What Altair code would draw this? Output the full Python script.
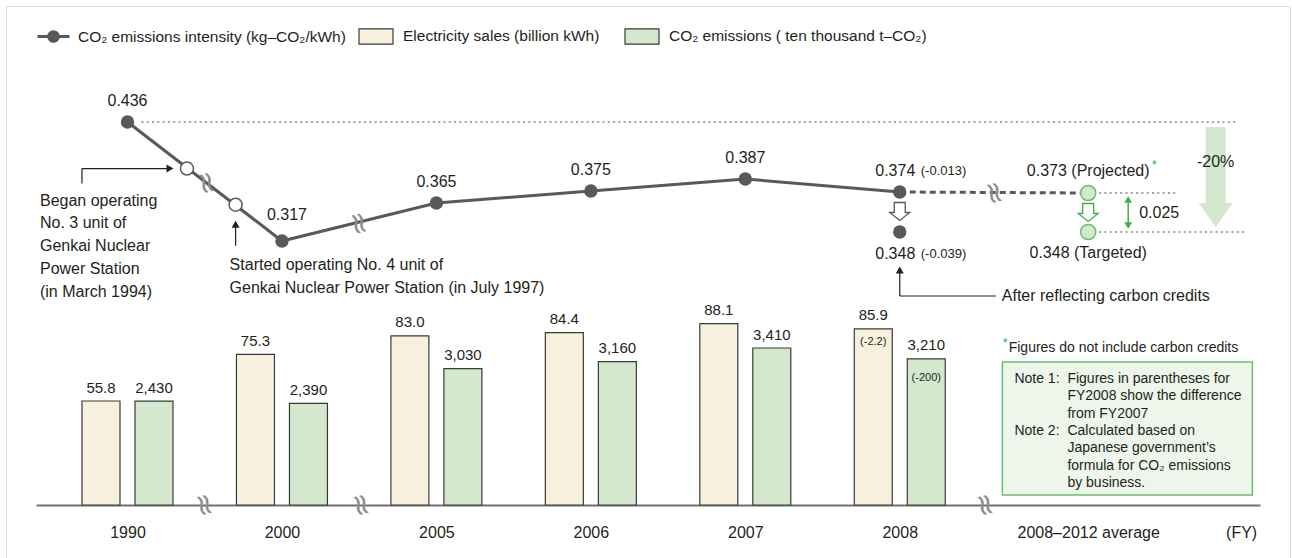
import altair as alt
import pandas as pd

# ----------------------------------------------------------------- data
years = ["1990", "2000", "2005", "2006", "2007", "2008"]
slots = [0, 1, 2, 3, 4, 5]                                   # positions on the broken x axis
intensity = [0.436, 0.317, 0.365, 0.375, 0.387, 0.374]       # kg-CO2/kWh
sales = [55.8, 75.3, 83.0, 84.4, 88.1, 85.9]                 # billion kWh
emissions = [2430, 2390, 3030, 3160, 3410, 3210]             # ten thousand t-CO2

intensity_change_2008 = "(-0.013)"
sales_change_2008 = "(-2.2)"
emissions_change_2008 = "(-200)"
after_credit_2008 = 0.348
after_credit_change = "(-0.039)"

avg_slot = 6.22
projected = 0.373
targeted = 0.348
reduction = "0.025"
reduction_pct = "-20%"

# unit start-up markers on the 1990-2000 segment (March 1994, July 1997)
marker_slots = [0.385, 0.70]
marker_values = [0.396, 0.364]

axis_slots = slots + [avg_slot, 7.21]
axis_labels = years + ["2008–2012 average", "(FY)"]

LINE_NAME = "CO₂ emissions intensity (kg–CO₂/kWh)"
SALES_NAME = "Electricity sales (billion kWh)"
EMIS_NAME = "CO₂ emissions ( ten thousand t–CO₂)"

began_text = ["Began operating", "No. 3 unit of", "Genkai Nuclear", "Power Station", "(in March 1994)"]
started_text = ["Started operating No. 4 unit of", "Genkai Nuclear Power Station (in July 1997)"]
after_text = "After reflecting carbon credits"
star_note = "Figures do not include carbon credits"
note1_head = "Note 1:"
note2_head = "Note 2:"
note_lines = ["Figures in parentheses for", "FY2008 show the difference", "from FY2007",
              "Calculated based on", "Japanese government’s", "formula for CO₂ emissions",
              "by business."]

# layout helpers (break symbols, reference lines, big arrow)
line_break_slots = [0.509, 1.495, 5.61]
line_break_values = [0.383, 0.353, 0.373]
axis_break_slots = [0.495, 1.51, 5.55]
ref_from = [0.09, 6.29, 6.29]
ref_to = [7.19, 6.79, 7.23]
big_arrow_slot = 7.045

# ----------------------------------------------------------------- style
FONT = "Liberation Sans"
TEXT = "#231f20"
DARK = "#58595b"
CREAM = "#f6f0dd"
GREEN_FILL = "#d4e8cd"
GREEN = "#3fae49"
GREEN_EDGE = "#6cbf6c"
DOT = "#a3a3a3"
BAR_EDGE = "#3a3a3a"
FRAME = "#707070"
BREAK = "#8c8c8c"
NOTE_LH = 17.33

expr_labels = "[" + ",".join("'" + t + "'" for t in axis_labels) + "]"
expr_values = "[" + ",".join(str(v) for v in axis_slots) + "]"
X_AXIS = alt.Axis(values=axis_slots, labelExpr=expr_labels + "[indexof(" + expr_values + ", datum.value)]",
                  title=None, ticks=False, tickSize=0, domainColor=FRAME, domainWidth=2, grid=False,
                  labelFontSize=16, labelColor=TEXT, labelFont=FONT, labelPadding=19,
                  labelFlush=False, labelOverlap=False, labelBound=False, offset=-53)
X_SCALE = alt.Scale(domain=[-0.56, 7.3], range=[30, 1254], nice=False, zero=False)
X = alt.X("slot:Q", scale=X_SCALE, axis=X_AXIS)

YI_SCALE = alt.Scale(domain=[0.317, 0.348, 0.365, 0.373, 0.387, 0.436],
                     range=[235, 226, 197, 187, 173, 116], nice=False, zero=False)
YS_SCALE = alt.Scale(domain=[0, 55.8, 88.1], range=[499, 395, 317.7], nice=False, zero=False)
YE_SCALE = alt.Scale(domain=[0, 2390, 3410], range=[499, 397.3, 342], nice=False, zero=False)
YI = alt.Y("value:Q", scale=YI_SCALE, axis=None)

LINE_SYM = "M-1,0L1,0M0.3,0A0.3,0.3,0,1,1,-0.3,0A0.3,0.3,0,1,1,0.3,0Z"
BOX_SYM = "M-1,-0.45L1,-0.45L1,0.45L-1,0.45Z"
HEAD_SYM = "M-1,-0.7L1,-0.7L0,0.7Z"
BLOCK_SYM = "M-0.55,-0.9L0.55,-0.9L0.55,0.1L1,0.1L0,0.9L-1,0.1L-0.55,0.1Z"

line_legend = alt.Legend(title=None, orient="none", legendX=30, legendY=13, symbolType=LINE_SYM,
                         symbolSize=1024, symbolStrokeWidth=3, symbolFillColor=DARK,
                         labelFontSize=15.5, labelColor=TEXT, labelFont=FONT, labelOffset=7,
                         labelLimit=400, padding=0)
bar_legend = alt.Legend(title=None, orient="none", legendX=352, legendY=12, direction="horizontal",
                        symbolType=BOX_SYM, symbolSize=1156, symbolStrokeColor=BAR_EDGE,
                        symbolStrokeWidth=1.2, labelFontSize=15.5, labelColor=TEXT, labelFont=FONT,
                        labelOffset=9, columnPadding=22, labelLimit=400, padding=0)
FILL_SCALE = alt.Scale(domain=[SALES_NAME, EMIS_NAME], range=[CREAM, GREEN_FILL])

# ----------------------------------------------------------------- tables
df_line = pd.DataFrame({"slot": slots, "value": intensity, "series": LINE_NAME})
df_2008 = pd.DataFrame({"slot": [slots[-1]], "value": [intensity[-1]]})
df_after = pd.DataFrame({"slot": [slots[-1]], "value": [after_credit_2008]})
df_dash = pd.DataFrame({"slot": [slots[-1], avg_slot], "value": [intensity[-1], projected]})
df_m1 = pd.DataFrame({"slot": [marker_slots[0]], "value": [marker_values[0]]})
df_m2 = pd.DataFrame({"slot": [marker_slots[1]], "value": [marker_values[1]]})
df_markers = pd.DataFrame({"slot": marker_slots, "value": marker_values})
df_proj = pd.DataFrame({"slot": [avg_slot], "value": [projected]})
df_targ = pd.DataFrame({"slot": [avg_slot], "value": [targeted]})
df_avg = pd.DataFrame({"slot": [avg_slot, avg_slot], "value": [projected, targeted]})
df_span = pd.DataFrame({"slot": [avg_slot], "value": [projected], "value2": [targeted]})
df_ref = pd.DataFrame({"slot": ref_from, "slot2": ref_to, "value": [intensity[0], projected, targeted]})
df_big = pd.DataFrame({"slot": [big_arrow_slot], "value": [intensity[0]], "tip": [targeted]})
df_lbreak = pd.DataFrame({"slot": line_break_slots, "value": line_break_values})

df_sales = pd.DataFrame({"slot": slots, "value": sales, "series": SALES_NAME})
df_emis = pd.DataFrame({"slot": slots, "value": emissions, "series": EMIS_NAME})
df_base = pd.DataFrame({"slot": [avg_slot], "value": [0]})
df_abreak = pd.DataFrame({"slot": axis_break_slots, "value": [0] * len(axis_break_slots)})


def text_at(df, y, text, **kw):
    props = dict(font=FONT, fontSize=16, color=TEXT)
    props.update(kw)
    return alt.Chart(df).mark_text(text=text, **props).encode(x=X, y=y)


def point_at(df, y, **kw):
    return alt.Chart(df).mark_point(opacity=1, **kw).encode(x=X, y=y)


def rule_at(df, y, y2=None, x2=None, **kw):
    enc = dict(x=X, y=y)
    if y2 is not None:
        enc["y2"] = y2
    if x2 is not None:
        enc["x2"] = x2
    return alt.Chart(df).mark_rule(**kw).encode(**enc)


# ----------------------------------------------------------------- intensity group
ref_lines = alt.Chart(df_ref).mark_rule(color=DOT, strokeWidth=2, strokeDash=[2, 3.3]).encode(
    x=X, x2="slot2:Q", y=YI)
line = alt.Chart(df_line).mark_line(strokeWidth=3).encode(
    x=X, y=YI, stroke=alt.Stroke("series:N", scale=alt.Scale(domain=[LINE_NAME], range=[DARK]),
                                 legend=line_legend))
dash = alt.Chart(df_dash).mark_line(strokeWidth=3, strokeDash=[6, 4], color=DARK).encode(x=X, y=YI)

shaft = alt.Chart(df_big).mark_rule(strokeWidth=20, color=GREEN_FILL, strokeCap="butt",
                                    yOffset=5, y2Offset=-28).encode(
    x=X, y=alt.Y("value:Q", scale=YI_SCALE, axis=None), y2="tip:Q")
head = alt.Chart(df_big).mark_point(shape=HEAD_SYM, size=1156, filled=True, color=GREEN_FILL,
                                    opacity=1, strokeWidth=0, yOffset=-17).encode(
    x=X, y=alt.Y("tip:Q", scale=YI_SCALE, axis=None))
pct = alt.Chart(df_big).mark_text(text=reduction_pct, font=FONT, fontSize=16, color=TEXT, dy=40).encode(
    x=X, y=alt.Y("value:Q", scale=YI_SCALE, axis=None))

open_pts = point_at(df_markers, YI, shape="circle", filled=True, fill="white", stroke=DARK,
                    strokeWidth=1.5, size=170)
pts = alt.Chart(df_line).mark_circle(size=180, color=DARK, opacity=1).encode(x=X, y=YI)
after_pt = alt.Chart(df_after).mark_circle(size=180, color=DARK, opacity=1).encode(x=X, y=YI)
green_pts = point_at(df_avg, YI, shape="circle", filled=True, fill=GREEN_FILL, stroke=GREEN_EDGE,
                     strokeWidth=1.5, size=230)

block_2008 = point_at(df_2008, YI, shape=BLOCK_SYM, size=400, filled=True, fill="white",
                      stroke=DARK, strokeWidth=1.3, yOffset=19.5)
block_avg = point_at(df_proj, YI, shape=BLOCK_SYM, size=400, filled=True, fill="white",
                     stroke=GREEN, strokeWidth=1.3, yOffset=19.5)

span_rule = alt.Chart(df_span).mark_rule(color=GREEN, strokeWidth=1.5, xOffset=40, yOffset=7,
                                         y2Offset=-7).encode(x=X, y=YI, y2="value2:Q")
span_up = point_at(df_proj, YI, shape="triangle-up", size=60, filled=True, color=GREEN,
                   xOffset=40, yOffset=6.5)
span_down = point_at(df_targ, YI, shape="triangle-down", size=60, filled=True, color=GREEN,
                     xOffset=40, yOffset=-6.5)
span_text = text_at(df_proj, YI, reduction, align="left", dx=51, dy=19.7)

val_labels = alt.Chart(df_line).transform_filter("datum.slot != 1 && datum.slot != 5").mark_text(
    font=FONT, fontSize=16, color=TEXT, dy=-21).encode(x=X, y=YI, text=alt.Text("value:Q", format=".3f"))
val_1 = alt.Chart(df_line).transform_filter("datum.slot == 1").mark_text(
    font=FONT, fontSize=16, color=TEXT, dx=5, dy=-26).encode(x=X, y=YI, text=alt.Text("value:Q", format=".3f"))
val_5 = alt.Chart(df_line).transform_filter("datum.slot == 5").mark_text(
    font=FONT, fontSize=16, color=TEXT, dx=-4.5, dy=-21).encode(x=X, y=YI, text=alt.Text("value:Q", format=".3f"))
val_5c = text_at(df_2008, YI, intensity_change_2008, fontSize=13, align="left", dx=21, dy=-21)
after_val = alt.Chart(df_after).mark_text(font=FONT, fontSize=16, color=TEXT, dx=-4.5, dy=22).encode(
    x=X, y=YI, text=alt.Text("value:Q", format=".3f"))
after_chg = text_at(df_after, YI, after_credit_change, fontSize=13, align="left", dx=21, dy=22)
proj_lab = text_at(df_proj, YI, f"{projected:.3f} (Projected)", dy=-22)
proj_star = text_at(df_proj, YI, "*", fontSize=13, color=GREEN, dx=66, dy=-28)
targ_lab = text_at(df_targ, YI, f"{targeted:.3f} (Targeted)", dy=21)

began = text_at(df_m1, YI, began_text, align="left", baseline="top", lineHeight=22.8, dx=-147, dy=24)
began_v = rule_at(df_m1, YI, y2="value:Q", color=TEXT, strokeWidth=1.2, xOffset=-105, y2Offset=15)
began_h = rule_at(df_m1, YI, x2="slot:Q", color=TEXT, strokeWidth=1.2, xOffset=-105, x2Offset=-20)
began_tip = point_at(df_m1, YI, shape="triangle-right", size=64, filled=True, color=TEXT, xOffset=-17)

started = text_at(df_m2, YI, started_text, align="left", baseline="top", lineHeight=22.5, dx=-6, dy=52.5)
started_v = rule_at(df_m2, YI, y2="value:Q", color=TEXT, strokeWidth=1.2, yOffset=22, y2Offset=41)
started_tip = point_at(df_m2, YI, shape="triangle-up", size=64, filled=True, color=TEXT, yOffset=19.5)

after_lab = text_at(df_after, YI, after_text, align="left", dx=102, dy=64)
after_v = rule_at(df_after, YI, y2="value:Q", color=TEXT, strokeWidth=1.2, yOffset=40, y2Offset=64)
after_h = rule_at(df_after, YI, x2="slot:Q", color=TEXT, strokeWidth=1.2, yOffset=64, x2Offset=96)
after_tip = point_at(df_after, YI, shape="triangle-up", size=64, filled=True, color=TEXT, yOffset=38)

line_breaks = alt.Chart(df_lbreak).mark_text(text="≈", font="DejaVu Sans", fontSize=30, color=BREAK,
                                             angle=75).encode(x=X, y=YI)

group_int = alt.layer(ref_lines, shaft, head, pct, dash, line, line_breaks, open_pts, pts, after_pt,
                      green_pts, block_2008, block_avg, span_rule, span_up, span_down, span_text,
                      val_labels, val_1, val_5, val_5c, after_val, after_chg, proj_lab, proj_star,
                      targ_lab, began, began_v, began_h, began_tip, started, started_v, started_tip,
                      after_lab, after_v, after_h, after_tip)

# ----------------------------------------------------------------- sales group
YS = alt.Y("value:Q", scale=YS_SCALE, axis=None)
FILL = alt.Fill("series:N", scale=FILL_SCALE, legend=bar_legend)
sales_bars = alt.Chart(df_sales).mark_bar(width=38, xOffset=-26.5, stroke=BAR_EDGE, strokeWidth=1.2).encode(
    x=X, y=YS, fill=FILL)
sales_lab = alt.Chart(df_sales).mark_text(font=FONT, fontSize=15, color=TEXT, dx=-26.5, dy=-13.5).encode(
    x=X, y=YS, text=alt.Text("value:Q", format=".1f"))
sales_chg = alt.Chart(df_sales).transform_filter("datum.slot == 5").mark_text(
    text=sales_change_2008, font=FONT, fontSize=11, color=TEXT, dx=-26.5, dy=13.5).encode(x=X, y=YS)
group_sales = alt.layer(sales_bars, sales_lab, sales_chg)

# ----------------------------------------------------------------- emissions group
YE = alt.Y("value:Q", scale=YE_SCALE, axis=None)
emis_bars = alt.Chart(df_emis).mark_bar(width=38, xOffset=26.5, stroke=BAR_EDGE, strokeWidth=1.2).encode(
    x=X, y=YE, fill=FILL)
emis_lab = alt.Chart(df_emis).mark_text(font=FONT, fontSize=15, color=TEXT, dx=26.5, dy=-13.5).encode(
    x=X, y=YE, text=alt.Text("value:Q", format=","))
emis_chg = alt.Chart(df_emis).transform_filter("datum.slot == 5").mark_text(
    text=emissions_change_2008, font=FONT, fontSize=11, color=TEXT, dx=26.5, dy=19).encode(x=X, y=YE)
note_box = alt.Chart(df_base).mark_rect(fill="#eef6eb", stroke=GREEN_EDGE, strokeWidth=1.5,
                                        xOffset=-85.8, x2Offset=164.2, yOffset=-143, y2Offset=-10).encode(
    x=X, x2="slot:Q", y=YE, y2="value:Q")
note_h1 = text_at(df_base, YE, note1_head, fontSize=14, align="left", baseline="top",
                  dx=-73.8, dy=-133)
note_h2 = text_at(df_base, YE, note2_head, fontSize=14, align="left", baseline="top",
                  dx=-73.8, dy=-133 + 3 * NOTE_LH)
note_t = text_at(df_base, YE, note_lines, fontSize=14, align="left", baseline="top", lineHeight=NOTE_LH,
                 dx=-20.8, dy=-133)
star_s = text_at(df_base, YE, "*", fontSize=13, color=GREEN, dx=-83, dy=-162)
star_t = text_at(df_base, YE, star_note, fontSize=14, align="left", dx=-79.5, dy=-156.7)
axis_breaks = alt.Chart(df_abreak).mark_text(text="≈", font="DejaVu Sans", fontSize=30, color=BREAK,
                                             angle=75).encode(x=X, y=YE)
group_emis = alt.layer(emis_bars, emis_lab, emis_chg, note_box, note_h1, note_h2, note_t, star_s, star_t,
                       axis_breaks)

chart = alt.layer(group_int, group_sales, group_emis).resolve_scale(y="independent").properties(
    width=1284, height=552, autosize=alt.AutoSizeParams(type="none"),
    padding={"left": 6, "top": 6, "right": 2, "bottom": 0},
).configure_view(stroke=FRAME, strokeWidth=2).configure(font=FONT, background="white")

chart.save("out.html", embed_options={"renderer": "svg", "actions": False})
